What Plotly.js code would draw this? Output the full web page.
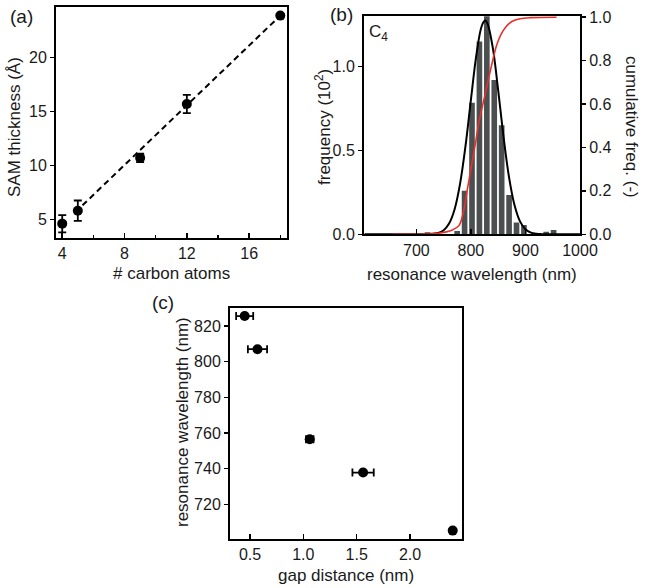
<!DOCTYPE html>
<html>
<head>
<meta charset="utf-8">
<script src="https://cdn.plot.ly/plotly-3.0.1.min.js"></script>
<style>html,body{margin:0;padding:0;background:#fff;}#chart{width:654px;height:588px;}</style>
</head>
<body>
<div id="chart"></div>
<script>
// ---- Panel (a): SAM thickness vs number of carbon atoms ----
const carbonAtoms = [4, 5, 9, 12, 18];
const samThickness = [4.6, 5.8, 10.7, 15.7, 23.9];
const samThicknessErr = [0.8, 0.95, 0.4, 0.85, 0];
const fitX = [5.3, 18];
const fitY = [6.3, 23.9];

// ---- Panel (b): histogram of resonance wavelength (C4) ----
const histWavelength = [720.4, 774.8, 788.4, 802.0, 815.6, 829.2, 842.8, 856.4, 870.0, 883.6, 897.2, 938.0, 951.6];
const histFrequency = [0.012, 0.02, 0.26, 0.785, 1.15, 1.30, 0.92, 0.65, 0.235, 0.07, 0.055, 0.015, 0.025];
const gaussX = [605, 700, 720, 740, 750, 760, 770, 780, 790, 800, 810, 820, 826, 830, 840, 850, 860, 870, 880, 890, 900, 910, 920, 930, 1000];
const gaussY = [0, 0, 0.001, 0.008, 0.024, 0.064, 0.148, 0.299, 0.524, 0.802, 1.069, 1.244, 1.275, 1.261, 1.115, 0.859, 0.577, 0.338, 0.173, 0.077, 0.030, 0.010, 0.003, 0.001, 0];
const cumX = [657, 740, 766, 778, 786, 793, 800, 807, 815, 822, 830, 839, 847, 855, 864, 875, 890, 910, 957];
const cumY = [0, 0.005, 0.02, 0.04, 0.1, 0.2, 0.3, 0.4, 0.52, 0.6, 0.69, 0.79, 0.87, 0.92, 0.955, 0.98, 0.993, 0.998, 1.0];

// ---- Panel (c): resonance wavelength vs gap distance ----
const gapDistance = [0.45, 0.57, 1.06, 1.56, 2.40];
const gapErr = [0.08, 0.09, 0.035, 0.1, 0];
const resonanceWl = [825.6, 807, 756.5, 737.8, 705.2];

const W = 654, H = 588;
const px = x => x / W;
const py = y => 1 - y / H;
const FONT = 'Arial, "Liberation Sans", sans-serif';
const TXT = '#1a1a1a';

const traces = [
  {x: fitX, y: fitY, type: 'scatter', mode: 'lines', xaxis: 'x', yaxis: 'y',
   line: {color: '#000', width: 2, dash: '6px,4px'}, hoverinfo: 'skip'},
  {x: carbonAtoms, y: samThickness, type: 'scatter', mode: 'markers', xaxis: 'x', yaxis: 'y',
   marker: {color: '#000', size: 10},
   error_y: {type: 'data', array: samThicknessErr, color: '#000', thickness: 1.8, width: 4}},
  {x: histWavelength, y: histFrequency, type: 'bar', xaxis: 'x2', yaxis: 'y2',
   marker: {color: '#4b4f50', line: {width: 0}}},
  {x: gaussX, y: gaussY, type: 'scatter', mode: 'lines', xaxis: 'x2', yaxis: 'y2',
   line: {color: '#000', width: 2, shape: 'spline'}},
  {x: cumX, y: cumY, type: 'scatter', mode: 'lines', xaxis: 'x2', yaxis: 'y3',
   line: {color: '#e8302c', width: 1.6, shape: 'spline'}},
  {x: gapDistance, y: resonanceWl, type: 'scatter', mode: 'markers', xaxis: 'x3', yaxis: 'y4',
   marker: {color: '#000', size: 10},
   error_x: {type: 'data', array: gapErr, color: '#000', thickness: 1.8, width: 4}}
];

const axBase = {showline: true, linecolor: '#000', linewidth: 2, mirror: true, showgrid: false, zeroline: false,
  tickfont: {family: FONT, size: 16, color: TXT}, tickcolor: '#000', tickwidth: 1.5, fixedrange: true};

const layout = {
  width: W, height: H, margin: {l: 0, r: 0, t: 0, b: 0},
  paper_bgcolor: '#fff', plot_bgcolor: '#fff', showlegend: false, bargap: 0.24,
  font: {family: FONT, color: TXT},
  xaxis: Object.assign({}, axBase, {domain: [px(56), px(287)], range: [3.6, 18.43], anchor: 'y',
    tickvals: [4, 8, 12, 16], ticks: 'inside', ticklen: 5,
    minor: {tickvals: [6, 10, 14, 18], ticks: 'inside', ticklen: 3, tickcolor: '#000', tickwidth: 1.5}}),
  yaxis: Object.assign({}, axBase, {domain: [py(238), py(7)], range: [3.27, 24.7], anchor: 'x',
    tickvals: [5, 10, 15, 20], ticks: 'outside', ticklen: 4}),
  xaxis2: Object.assign({}, axBase, {domain: [px(364), px(580)], range: [604, 1000], anchor: 'y2',
    tickvals: [700, 800, 900, 1000], ticks: 'inside', ticklen: 5}),
  yaxis2: Object.assign({}, axBase, {domain: [py(234.3), py(15.7)], range: [0, 1.304], anchor: 'x2', mirror: false,
    tickvals: [0, 0.5, 1.0], ticktext: ['0.0', '0.5', '1.0'], ticks: 'outside', ticklen: 4}),
  yaxis3: Object.assign({}, axBase, {domain: [py(234.3), py(15.7)], range: [0, 1.007], anchor: 'x2', overlaying: 'y2', side: 'right', mirror: false,
    tickvals: [0, 0.2, 0.4, 0.6, 0.8, 1.0], ticktext: ['0.0', '0.2', '0.4', '0.6', '0.8', '1.0'], ticks: 'outside', ticklen: 4}),
  xaxis3: Object.assign({}, axBase, {domain: [px(230), px(462.3)], range: [0.3125, 2.49], anchor: 'y4',
    tickvals: [0.5, 1.0, 1.5, 2.0], ticktext: ['0.5', '1.0', '1.5', '2.0'], ticks: 'inside', ticklen: 5}),
  yaxis4: Object.assign({}, axBase, {domain: [py(539), py(307.7)], range: [700.5, 830.3], anchor: 'x3',
    tickvals: [720, 740, 760, 780, 800, 820], ticks: 'outside', ticklen: 4}),
  annotations: []
};

function ann(text, x, y, size, angle, xanchor) {
  layout.annotations.push({text: text, xref: 'paper', yref: 'paper', x: px(x), y: py(y),
    xanchor: xanchor || 'center', yanchor: 'middle', showarrow: false, textangle: angle || 0,
    font: {family: FONT, size: size, color: TXT}});
}
ann('(a)', 21, 16, 19);
ann('(b)', 341, 14, 19);
ann('(c)', 163, 302, 19);
ann('C<sub>4</sub>', 367, 33, 17, 0, 'left');
ann('# carbon atoms', 171.5, 273, 17);
ann('SAM thickness (Å)', 15, 127, 17, -90);
ann('frequency (10<sup>2</sup>)', 323, 127, 17, -90);
ann('cumulative freq. (-)', 631, 127, 17, 90);
ann('resonance wavelength (nm)', 472, 274, 17);
ann('gap distance (nm)', 346, 575, 17);
ann('resonance wavelength (nm)', 182, 422, 17, -90);

Plotly.newPlot('chart', traces, layout, {staticPlot: true, displayModeBar: false});
</script>
</body>
</html>
